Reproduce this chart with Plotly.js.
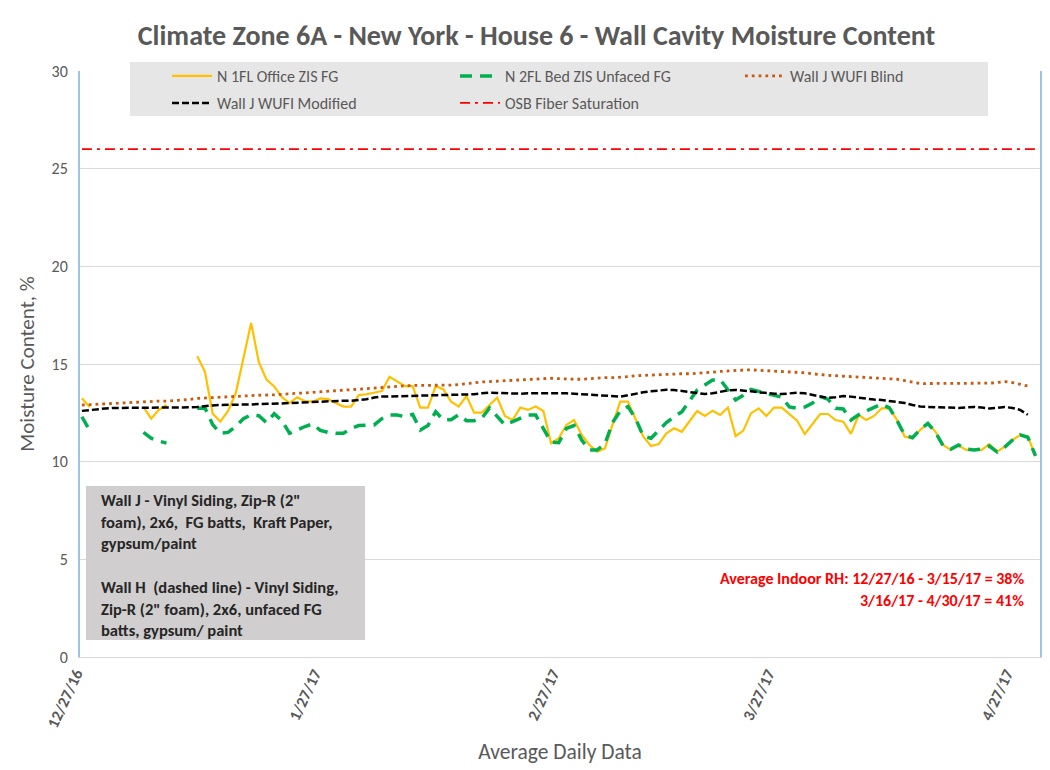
<!DOCTYPE html>
<html><head><meta charset="utf-8">
<script src="https://cdn.plot.ly/plotly-3.0.1.min.js"></script>
<style>html,body{margin:0;padding:0;background:#fff}#chart{width:1050px;height:770px}</style>
</head><body><div id="chart"></div>
<script>
// ---- data (daily readings starting 12/27/16) ----
const startDate = '2016-12-27';

const seriesNames = ['N 1FL Office ZIS FG', 'N 2FL Bed ZIS Unfaced FG', 'Wall J WUFI Blind', 'Wall J WUFI Modified', 'OSB Fiber Saturation'];

const office1FL = [
 13.25,12.8,null,null,null,null,null,null,12.8,12.2,
 12.65,12.9,null,null,null,15.4,14.6,12.45,12.05,12.6,
 13.5,15.3,17.1,15.1,14.2,13.85,13.3,13.0,13.3,13.1,
 13.07,13.24,13.2,13.0,12.82,12.82,13.41,13.45,13.55,13.62,
 14.35,14.1,13.87,13.87,12.77,12.77,13.87,13.7,13.07,12.82,
 13.36,12.51,12.51,12.9,13.28,12.34,12.13,12.77,12.65,12.82,
 12.59,10.94,11.2,11.88,12.13,11.37,10.85,10.51,10.68,11.9,
 13.07,13.07,12.13,11.28,10.8,10.9,11.45,11.71,11.53,12.05,
 12.59,12.34,12.61,12.39,12.77,11.31,11.59,12.47,12.73,12.34,
 12.77,12.77,12.45,12.1,11.42,11.95,12.44,12.44,12.13,12.05,
 11.42,12.39,12.13,12.34,12.73,12.73,12.13,11.28,11.2,11.62,
 11.96,11.53,10.85,10.6,10.82,10.6,10.6,10.6,10.9,10.51,
 10.77,11.1,11.37,11.28,10.29
];

const bed2FL = [
 12.3,11.6,null,null,null,null,null,null,11.5,11.2,
 11.05,10.95,null,null,null,12.73,12.75,11.9,11.45,11.5,
 11.8,12.2,12.4,12.35,12.0,12.45,12.1,11.45,11.65,11.8,
 11.93,11.6,11.5,11.45,11.45,11.7,11.85,11.88,11.88,12.2,
 12.39,12.39,12.3,12.42,11.62,11.85,12.56,12.13,12.15,12.4,
 12.1,12.1,12.22,12.75,12.3,11.88,12.05,12.2,12.39,12.39,
 11.7,11.0,10.97,11.7,11.85,11.1,10.6,10.6,10.9,12.0,
 12.6,12.82,12.2,11.3,11.2,11.6,12.0,12.3,12.55,13.1,
 13.67,13.92,14.18,14.2,13.7,13.16,13.4,13.7,13.6,13.5,
 13.41,13.3,12.8,12.73,12.8,13.0,13.33,13.2,12.73,12.7,
 12.13,12.4,12.6,12.8,12.95,12.75,12.1,11.35,11.23,11.65,
 11.96,11.5,10.8,10.65,10.85,10.65,10.6,10.65,10.8,10.5,
 10.75,11.1,11.37,11.25,10.3
];

const wufiBlind = [
 12.9,12.92,12.95,12.97,13.0,13.0,13.02,13.03,13.05,13.07,
 13.1,13.1,13.12,13.15,13.18,13.24,13.27,13.3,13.3,13.32,
 13.35,13.37,13.38,13.4,13.4,13.42,13.45,13.46,13.5,13.52,
 13.55,13.57,13.6,13.62,13.65,13.68,13.7,13.75,13.78,13.8,
 13.85,13.87,13.88,13.9,13.9,13.9,13.92,13.92,13.92,13.95,
 14.0,14.05,14.08,14.1,14.12,14.15,14.18,14.2,14.22,14.25,
 14.27,14.27,14.25,14.22,14.22,14.22,14.25,14.27,14.3,14.3,
 14.32,14.35,14.4,14.42,14.45,14.47,14.48,14.49,14.5,14.5,
 14.52,14.55,14.58,14.62,14.65,14.68,14.69,14.7,14.68,14.65,
 14.63,14.62,14.62,14.58,14.55,14.5,14.45,14.42,14.4,14.38,
 14.35,14.33,14.32,14.3,14.27,14.25,14.22,14.15,14.08,14.0,
 14.0,14.0,13.99,13.99,13.99,14.0,14.0,14.02,14.02,14.05,
 14.1,14.05,13.95,13.87,null
];

const wufiModified = [
 12.6,12.65,12.7,12.72,12.75,12.75,12.77,12.77,12.77,12.77,
 12.77,12.78,12.78,12.78,12.78,12.8,12.85,12.88,12.9,12.9,
 12.9,12.92,12.93,12.95,12.95,12.97,12.98,13.0,13.02,13.03,
 13.05,13.07,13.08,13.1,13.12,13.12,13.15,13.2,13.28,13.33,
 13.34,13.35,13.36,13.36,13.38,13.38,13.4,13.4,13.4,13.41,
 13.42,13.45,13.5,13.53,13.52,13.5,13.48,13.48,13.5,13.5,
 13.52,13.53,13.53,13.5,13.48,13.45,13.42,13.4,13.38,13.35,
 13.33,13.4,13.48,13.55,13.6,13.65,13.68,13.67,13.62,13.55,
 13.5,13.46,13.5,13.58,13.65,13.67,13.65,13.6,13.55,13.5,
 13.48,13.46,13.5,13.53,13.5,13.42,13.35,13.26,13.3,13.36,
 13.33,13.28,13.22,13.18,13.16,13.1,13.07,13.0,12.9,12.83,
 12.8,12.78,12.77,12.76,12.75,12.78,12.8,12.77,12.72,12.75,
 12.8,12.75,12.65,12.4,null
];

const osbFiberSaturation = 26;

const tickDates = ['2016-12-27', '2017-01-27', '2017-02-27', '2017-03-27', '2017-04-27'];
const tickLabels = ['12/27/16', '1/27/17', '2/27/17', '3/27/17', '4/27/17'];

const boxLines = [
 'Wall J - Vinyl Siding, Zip-R (2"',
 'foam), 2x6,  FG batts,  Kraft Paper,',
 'gypsum/paint',
 '',
 'Wall H  (dashed line) - Vinyl Siding,',
 'Zip-R (2" foam), 2x6, unfaced FG',
 'batts, gypsum/ paint'
];
const rhLines = [
 'Average Indoor RH: 12/27/16 - 3/15/17 = 38%',
 '3/16/17 - 4/30/17 = 41%'
];

// ---- build dates ----
function dayStr(i) {
  const d = new Date(startDate + 'T00:00:00Z');
  d.setUTCDate(d.getUTCDate() + i);
  return d.toISOString().slice(0, 10);
}
const dates = office1FL.map((_, i) => dayStr(i));

const FONT = 'Carlito, Lato, "Open Sans", sans-serif';
const GREY = '#595959';

const traces = [
  {x: dates, y: office1FL, name: seriesNames[0], mode: 'lines', legend: 'legend',
   line: {color: '#FFC000', width: 2.2}},
  {x: dates, y: bed2FL, name: seriesNames[1], mode: 'lines', legend: 'legend2',
   line: {color: '#00B050', width: 3.5, dash: '12px,8px'}},
  {x: dates, y: wufiBlind, name: seriesNames[2], mode: 'lines', legend: 'legend3',
   line: {color: '#C55A11', width: 2.8, dash: '2.8px,4px'}},
  {x: dates, y: wufiModified, name: seriesNames[3], mode: 'lines', legend: 'legend4',
   line: {color: '#000000', width: 2.5, dash: '7px,3px'}},
  {x: [dates[0], dates[dates.length - 1]], y: [osbFiberSaturation, osbFiberSaturation],
   name: seriesNames[4], mode: 'lines', legend: 'legend5',
   line: {color: '#FF0000', width: 1.6, dash: '10px,5px,3px,5px'}}
];

const plotL = 80, plotR = 1040, plotT = 71, plotB = 657;
const px = x => (x - plotL) / (plotR - plotL);
const py = y => (plotB - y) / (plotB - plotT);

function legendAt(xPix, yPix) {
  return {x: px(xPix), y: py(yPix), xanchor: 'left', yanchor: 'middle', xref: 'paper', yref: 'paper',
    bgcolor: 'rgba(0,0,0,0)', borderwidth: 0, itemwidth: 40,
    font: {family: FONT, size: 16, color: GREY}};
}

const annotations = [];
boxLines.forEach((t, i) => {
  if (!t) return;
  annotations.push({text: t, xref: 'paper', yref: 'paper', x: px(99), y: py(500 + i * 21.7),
    xanchor: 'left', yanchor: 'middle', showarrow: false, align: 'left',
    font: {family: FONT, size: 16.5, color: '#262626', weight: 'bold'}});
});
rhLines.forEach((t, i) => {
  annotations.push({text: t, xref: 'paper', yref: 'paper', x: px(1026), y: py(578 + i * 22),
    xanchor: 'right', yanchor: 'middle', showarrow: false, align: 'right',
    font: {family: FONT, size: 16, color: '#FF0000', weight: 'bold'}});
});

const layout = {
  width: 1050, height: 770,
  margin: {l: plotL, r: 1050 - plotR, t: plotT, b: 770 - plotB},
  paper_bgcolor: '#ffffff', plot_bgcolor: '#ffffff',
  font: {family: FONT, color: GREY},
  title: {text: 'Climate Zone 6A - New York - House 6 - Wall Cavity Moisture Content',
    x: 0.511, xanchor: 'center', y: 1 - 35 / 770, yanchor: 'middle', yref: 'container',
    font: {family: FONT, size: 28, color: GREY, weight: 'bold'}},
  xaxis: {type: 'date', range: ['2016-12-26 18:00', '2017-04-30 14:00'],
    tickvals: tickDates, ticktext: tickLabels, tickangle: -65, ticklabelshift: -6,
    tickfont: {family: FONT, size: 16, color: GREY, weight: 'bold'},
    showgrid: false, showline: true, linecolor: '#d9d9d9', linewidth: 1,
    ticks: '', zeroline: false,
    title: {text: 'Average Daily Data', font: {family: FONT, size: 21.5, color: GREY}, standoff: 14}},
  yaxis: {range: [0, 30], dtick: 5, tick0: 0,
    tickfont: {family: FONT, size: 16, color: GREY},
    showgrid: true, gridcolor: '#d9d9d9', gridwidth: 1,
    showline: true, linecolor: '#9DC3E6', linewidth: 2, mirror: true,
    zeroline: false, ticks: '', ticklabelstandoff: 7,
    title: {text: 'Moisture Content, %', font: {family: FONT, size: 21, color: GREY}, standoff: 11}},
  showlegend: true,
  legend: legendAt(167, 76),
  legend2: legendAt(455, 76),
  legend3: legendAt(740, 76),
  legend4: legendAt(167, 103),
  legend5: legendAt(455, 103),
  shapes: [
    {type: 'rect', xref: 'paper', yref: 'paper', x0: px(130), x1: px(988), y0: py(116), y1: py(62),
     fillcolor: '#e7e6e6', line: {width: 0}, layer: 'above'},
    {type: 'rect', xref: 'paper', yref: 'paper', x0: px(86), x1: px(365), y0: py(640), y1: py(486),
     fillcolor: '#d0cece', line: {width: 0}, layer: 'above'}
  ],
  annotations: annotations
};

Plotly.newPlot('chart', traces, layout, {displayModeBar: false, staticPlot: true});
</script>
</body></html>
